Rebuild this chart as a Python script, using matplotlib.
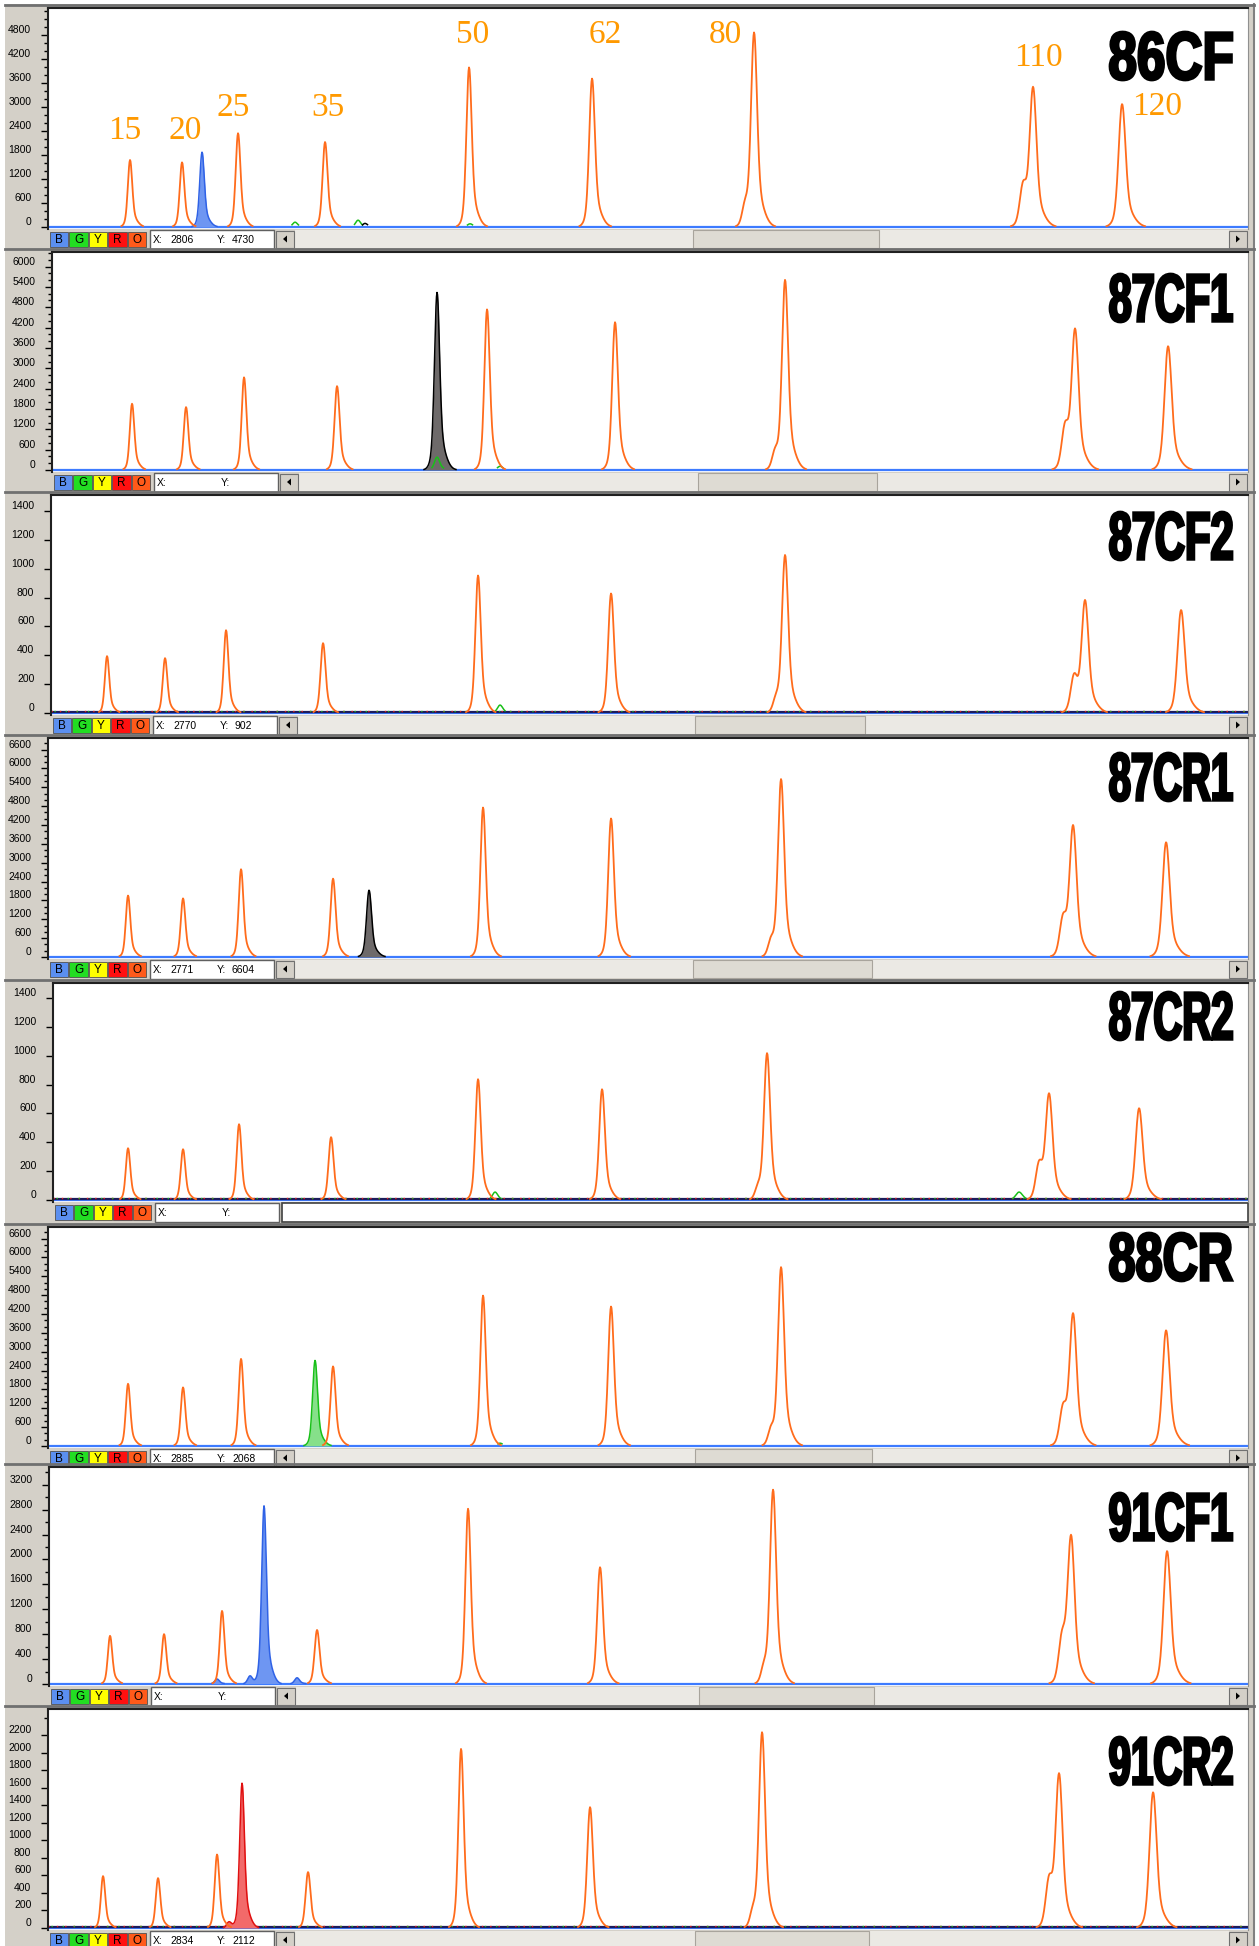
import numpy as np
import matplotlib.pyplot as plt
from matplotlib.patches import Rectangle, PathPatch, Polygon
from matplotlib.textpath import TextPath
from matplotlib.font_manager import FontProperties, findfont
from matplotlib.transforms import Affine2D

# ---- values (x = scan position in image px, height in RFU)
names = ['86CF', '87CF1', '87CF2', '87CR1', '87CR2', '88CR', '91CF1', '91CR2']
y_top = [5475, 6430, 1510, 6970, 1505, 6970, 3485, 2500]
label_max = [4800, 6000, 1400, 6600, 1400, 6600, 3200, 2200]
major_step = [600, 600, 200, 600, 200, 600, 400, 200]
minor_step = [200, 200, 200, 200, 200, 200, 200, 200]

orange_peaks = [
    [(130, 1680), (182, 1620), (238, 2350), (325, 2130), (469, 4000), (592, 3720),
     (745, 500), (754, 4820), (1023, 1000), (1033, 3400), (1122, 3080)],
    [(132, 1960), (186, 1860), (244, 2740), (337, 2480), (487, 4750), (615, 4370),
     (775, 500), (785, 5575), (1065, 1240), (1075, 4040), (1168, 3660)],
    [(107, 395), (165, 381), (226, 575), (323, 485), (478, 955), (611, 830),
     (776, 90), (785, 1087), (1074, 250), (1085, 760), (1181, 715)],
    [(128, 1960), (183, 1870), (241, 2800), (333, 2500), (483, 4770), (611, 4420),
     (771, 500), (781, 5630), (1063, 1200), (1073, 4070), (1166, 3660)],
    [(128, 360), (183, 353), (239, 527), (331, 437), (478, 840), (602, 770),
     (758, 80), (767, 1012), (1039, 243), (1049, 714), (1139, 638)],
    [(128, 1986), (183, 1870), (241, 2780), (333, 2540), (483, 4800), (611, 4450),
     (771, 500), (781, 5660), (1063, 1180), (1073, 4100), (1166, 3690)],
    [(110, 776), (164, 803), (222, 1177), (317, 870), (468, 2822), (600, 1880),
     (764, 250), (773, 3100), (1062, 720), (1071, 2300), (1167, 2140)],
    [(103, 594), (158, 571), (217, 841), (308, 640), (461, 2050), (590, 1383),
     (753, 180), (762, 2220), (1049, 530), (1059, 1710), (1153, 1553)],
]

# filled (sample) peaks: panel index -> (channel, peaks)
filled_peaks = {
    0: ('blue', [(202, 1875)]),
    1: ('black', [(437, 5250)]),
    3: ('black', [(369, 2130)]),
    5: ('green', [(315, 2730)]),
    6: ('blue', [(217, 80), (250, 130), (264, 2867), (297, 100)]),
    7: ('red', [(229, 70), (242, 1656)]),
}

# small bumps of other dyes near the baseline
small_bumps = {
    0: [('green', 295, 120), ('green', 358, 170), ('black', 365, 90), ('green', 470, 80)],
    1: [('green', 437, 380), ('green', 500, 110)],
    2: [('green', 500, 55)],
    4: [('green', 495, 55), ('green', 1019, 55)],
    5: [('green', 500, 90)],
}

# peak size labels on the first panel
size_labels = ['15', '20', '25', '35', '50', '62', '80', '110', '120']
size_label_x = [125, 185, 233, 328, 473, 605, 725, 1038, 1157]
size_label_y = [131, 131, 108, 108, 35, 35, 35, 58, 107]

status_x = ['2806', '', '2770', '2771', '', '2885', '', '2834']
status_y = ['4730', '', '902', '6604', '', '2068', '', '2112']

# ---- layout in image pixels
W, H = 1259, 1946
RIGHT = 1248
tops = [8, 252, 495, 738, 983, 1227, 1467, 1709]
bases = [227, 470, 713, 957, 1200, 1446, 1684, 1928]
lefts = [48, 52, 51, 48, 53, 48, 49, 48]
thumbs = [(693, 879), (698, 877), (695, 865), (693, 872), None, (695, 872), (699, 874), (695, 869)]
label_cy = [56, 298, 536, 777, 1016, 1257, 1517, 1761]
low_signal = [2, 4, 7]

GRAY = '#d4d0c8'
ORANGE = '#ff6c1c'
dye = {'blue': ('#6e96f2', '#2f62e6'), 'black': ('#6e6a6a', '#000000'),
       'green': ('#86e08a', '#18c018'), 'red': ('#f26a6a', '#e01010')}
box_colors = ['#5b8ff0', '#22dd22', '#ffff00', '#ff1010', '#ff5a1a']


def peak_shape(x, pos, h):
    s = 1.9 + 0.0012 * pos
    core = np.exp(-0.5 * ((x - pos) / s) ** 2)
    skirt = np.exp(-0.5 * ((x - pos - 0.4 * s) / (2.0 * s)) ** 2)
    tail = np.exp(-0.5 * ((x - pos - 3.2 * s) / (2.0 * s)) ** 2)
    return h * (0.8 * core + 0.19 * skirt + 0.04 * tail)


def trace(x, peaks):
    y = np.zeros_like(x)
    for pos, h in peaks:
        y += peak_shape(x, pos, h)
    return y


fig = plt.figure(figsize=(W / 100, H / 100), dpi=100)
fig.patch.set_facecolor('white')
bg = fig.add_axes([0, 0, 1, 1])
bg.set_xlim(0, W)
bg.set_ylim(H, 0)
bg.axis('off')
bg.add_patch(Rectangle((5, 4), 1249, H, fc=GRAY, ec='none'))
bg.plot([1254, 1254], [4, H], color='#808080', lw=1.5)

over = fig.add_axes([0, 0, 1, 1], zorder=10)
over.set_xlim(0, W)
over.set_ylim(H, 0)
over.axis('off')
over.patch.set_alpha(0)

tick_font = 'Liberation Sans'

for i in range(8):
    L, top, base = lefts[i], tops[i], bases[i]
    ax = fig.add_axes([L / W, 1 - (base + 2) / H, (RIGHT - L) / W, (base + 2 - top) / H], zorder=5)
    ax.set_facecolor('white')
    upp = y_top[i] / (base - top)
    ax.set_xlim(L, RIGHT)
    ax.set_ylim(-2 * upp, y_top[i])

    x = np.arange(L, RIGHT, 0.5)
    ax.axhline(0, color='#3d7bff', lw=1.6, zorder=1)
    if i in low_signal:
        ax.axhline(1.0 * upp, color='#1c1c5c', lw=1.6, zorder=1)
        ax.plot([L, RIGHT], [2.5 * upp] * 2, color='#e02020', lw=1.0, ls=(0, (1, 5)), zorder=1)
        ax.plot([L + 3, RIGHT], [2.0 * upp] * 2, color='#20b020', lw=1.0, ls=(0, (1, 7)), zorder=1)

    for col, pos, h in small_bumps.get(i, []):
        yb = peak_shape(x, pos, h)
        ax.plot(x, np.where(yb > 2 * upp, yb, np.nan), color=dye[col][1], lw=1.1, zorder=3)

    if i in filled_peaks:
        col, pk = filled_peaks[i]
        yf = trace(x, pk)
        ax.fill_between(x, 0, yf, where=yf > 0.5 * upp, color=dye[col][0], lw=0, zorder=2)
        ax.plot(x, np.where(yf > 0.5 * upp, yf, np.nan), color=dye[col][1], lw=1.1, zorder=2)

    yo = trace(x, orange_peaks[i])
    ax.plot(x, np.where(yo > 0.8 * upp, yo, np.nan), color=ORANGE, lw=1.3, zorder=4)

    ax.set_yticks(np.arange(0, label_max[i] + 1, major_step[i]))
    ax.set_yticklabels([str(v) for v in range(0, label_max[i] + 1, major_step[i])],
                       fontsize=7.5, family=tick_font)
    for lbl in ax.get_yticklabels():
        lbl.set_va('bottom')
    ax.set_yticks(np.arange(0, y_top[i], minor_step[i]), minor=True)
    ax.tick_params(axis='y', which='major', direction='out', length=5, width=1, pad=7)
    ax.tick_params(axis='y', which='minor', direction='out', length=3, width=1)
    ax.tick_params(axis='x', bottom=False, labelbottom=False)
    ax.spines['bottom'].set_visible(False)
    ax.spines['left'].set_color('#202020')
    ax.spines['left'].set_linewidth(1.5)
    ax.spines['top'].set_color('#202020')
    ax.spines['top'].set_linewidth(1.5)
    ax.spines['right'].set_color('#909090')

    # separator above the panel
    bg.plot([5, 1254], [top - 3, top - 3], color='#707070', lw=2)

    # ---- status bar
    y0 = base + 2
    for k, (ch, col) in enumerate(zip('BGYRO', box_colors)):
        bx = L + 2 + k * 19.4
        bg.add_patch(Rectangle((bx, y0 + 3), 18.4, 15, fc=col, ec='#505050', lw=0.6))
        bg.text(bx + 9.2, y0 + 11, ch, ha='center', va='center', fontsize=8.5, family=tick_font)
    bg.add_patch(Rectangle((L + 102, y0 + 0.5), 124, 19, fc='white', ec='#606060', lw=1))
    bg.text(L + 105, y0 + 11, 'X:', ha='left', va='center', fontsize=7.5, family=tick_font)
    bg.text(L + 122, y0 + 11, status_x[i], ha='left', va='center', fontsize=7.5, family=tick_font)
    bg.text(L + 169, y0 + 11, 'Y:', ha='left', va='center', fontsize=7.5, family=tick_font)
    bg.text(L + 184, y0 + 11, status_y[i], ha='left', va='center', fontsize=7.5, family=tick_font)
    if thumbs[i] is None:
        bg.add_patch(Rectangle((L + 229, y0 + 0.5), RIGHT - L - 229, 19, fc='white', ec='#404040', lw=1.2))
    else:
        bg.add_patch(Rectangle((L + 247, y0 + 1), 1229 - L - 247, 18, fc='#ebe9e4', ec='none'))
        t0, t1 = thumbs[i]
        bg.add_patch(Rectangle((t0, y0 + 1), t1 - t0, 18, fc='#dedbd3', ec='#a8a49c', lw=0.8))
        for bx0 in (L + 228, 1229):
            bg.add_patch(Rectangle((bx0, y0 + 1.5), 18, 17, fc=GRAY, ec='#707070', lw=0.8))
        bg.add_patch(Polygon([(L + 235, y0 + 10), (L + 239, y0 + 6.5), (L + 239, y0 + 13.5)], fc='black'))
        bg.add_patch(Polygon([(1240, y0 + 10), (1236, y0 + 6.5), (1236, y0 + 13.5)], fc='black'))

# ---- big sample names (condensed heavy)
fam = 'Liberation Sans Narrow'
try:
    findfont(FontProperties(family=fam), fallback_to_default=False)
except Exception:
    fam = 'Liberation Sans'
fp = FontProperties(family=fam, weight='bold')
for i, txt in enumerate(names):
    tp = TextPath((0, 0), txt, size=100, prop=fp)
    bb = tp.get_extents()
    w, h = 122, 48
    tr = Affine2D().translate(-bb.x0, -bb.y0).scale(w / bb.width, -h / bb.height) \
        .translate(1232 - w, label_cy[i] + h / 2)
    over.add_patch(PathPatch(tr.transform_path(tp), fc='black', ec='black', lw=2.0))

for t, sx, sy in zip(size_labels, size_label_x, size_label_y):
    over.text(sx, sy, t, ha='center', va='center', fontsize=24, color='#ff9900',
              family='Liberation Serif')

plt.savefig('out.png', dpi=100)
